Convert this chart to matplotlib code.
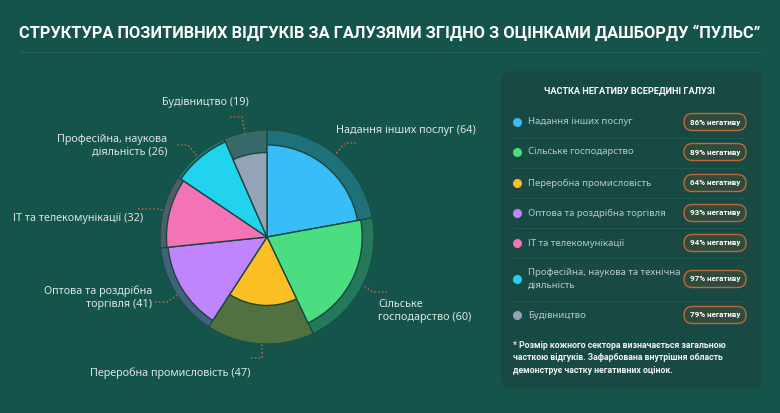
import numpy as np
import matplotlib.pyplot as plt
from matplotlib.patches import FancyBboxPatch
from matplotlib.colors import to_rgb

# data
industries = ["Надання інших послуг", "Сільське господарство", "Переробна промисловість",
              "Оптова та роздрібна торгівля", "ІТ та телекомунікації",
              "Професійна, наукова та технічна діяльність", "Будівництво"]
pie_labels = ["Надання інших послуг (64)", "Сільське\nгосподарство (60)", "Переробна промисловість (47)",
              "Оптова та роздрібна\nторгівля (41)", "ІТ та телекомунікації (32)",
              "Професійна, наукова\nдіяльність (26)", "Будівництво (19)"]
legend_labels = ["Надання інших послуг", "Сільське господарство", "Переробна промисловість",
                 "Оптова та роздрібна торгівля", "ІТ та телекомунікації",
                 "Професійна, наукова та технічна\nдіяльність", "Будівництво"]
counts = [64, 60, 47, 41, 32, 26, 19]
neg_share = [86, 89, 64, 93, 94, 97, 79]
colors = ["#38bdf8", "#4ade80", "#fbbf24", "#c084fc", "#f472b6", "#22d3ee", "#94a3b8"]

BG = "#14544a"
PANEL = "#184a43"
ORANGE = "#c2673a"
BOLD = ["Roboto", "DejaVu Sans"]
plt.rcParams['font.family'] = ['Noto Sans', 'DejaVu Sans']

def blend(c, a):
    c = np.array(to_rgb(c)); b = np.array(to_rgb(BG))
    return tuple(b + a * (c - b))

fig = plt.figure(figsize=(7.8, 4.13), dpi=100, facecolor=BG)
ax0 = fig.add_axes([0, 0, 1, 1])
ax0.set_xlim(0, 780)
ax0.set_ylim(413, 0)
ax0.axis("off")

# title
ax0.text(390, 33, "СТРУКТУРА ПОЗИТИВНИХ ВІДГУКІВ ЗА ГАЛУЗЯМИ ЗГІДНО З ОЦІНКАМИ ДАШБОРДУ “ПУЛЬС”",
         ha="center", va="center", color="white", fontsize=11.8, fontweight="bold", family=BOLD)
ax0.plot([20, 760], [52, 52], color="#22625a", lw=0.8)

# pie (polar bars: angle = share, radius = negative share)
cx, cy, R = 267, 237, 107
axp = fig.add_axes([(cx - R) / 780, (413 - cy - R) / 413, 2 * R / 780, 2 * R / 413], projection="polar")
axp.set_theta_zero_location("N")
axp.set_theta_direction(-1)
axp.set_ylim(0, 1)
axp.axis("off")
widths = np.array(counts) / sum(counts) * 2 * np.pi
starts = np.concatenate([[0], np.cumsum(widths)[:-1]])
axp.bar(starts, 1.0, width=widths, align="edge", color=[blend(c, 0.27) for c in colors],
        edgecolor="#16473f", linewidth=0.8)
axp.bar(starts, np.array(neg_share) / 100, width=widths, align="edge", color=colors,
        edgecolor="#16473f", linewidth=1.0)

# labels with dotted leaders
lab_cfg = [
    (336, 130, "left", [(329, 162), (345, 143), (356, 143)]),
    (378, 311, "left", [(355, 280), (373, 292), (387, 292)]),
    (170, 373, "center", [(262, 333), (262, 358), (249, 358)]),
    (152, 298, "right", [(155, 302), (167, 302), (185, 290)]),
    (143, 218, "right", [(138, 209), (160, 209), (173, 215)]),
    (167, 146, "right", [(177, 145), (188, 145), (203, 163)]),
    (205, 102, "center", [(230, 117), (242, 117), (247, 142)]),
]
for (tx, ty, ha, pts), lab in zip(lab_cfg, pie_labels):
    ax0.text(tx, ty, lab, ha=ha, va="center", color="#dbe5e1", fontsize=7.8, linespacing=1.25,
             multialignment=ha if ha != "center" else "center")
    xs, ys = zip(*pts)
    ax0.plot(xs, ys, color=ORANGE, lw=1.1, ls=(0, (1, 1.5)), zorder=5)

# right panel
ax0.add_patch(FancyBboxPatch((501, 71), 261, 318, boxstyle="round,pad=0,rounding_size=10",
                             facecolor=PANEL, edgecolor="none"))
ax0.text(630, 91, "ЧАСТКА НЕГАТИВУ ВСЕРЕДИНІ ГАЛУЗІ", ha="center", va="center",
         color="white", fontsize=6.6, fontweight="bold", family=BOLD)
row_y = [122, 152, 183, 213, 243, 279, 315]
sep_y = [138, 168, 198, 228, 258, 301]
for y in sep_y:
    ax0.plot([513, 746], [y, y], color="#1f5a50", lw=0.7)
for y, lab, c, n in zip(row_y, legend_labels, colors, neg_share):
    ax0.scatter([517], [y], s=30, color=c, zorder=4)
    ax0.text(528, y, lab, ha="left", va="center", color="#b9c8c3", fontsize=6.9, linespacing=1.6)
    ax0.add_patch(FancyBboxPatch((684, y - 8.5), 62, 17, boxstyle="round,pad=0,rounding_size=8.5",
                                 facecolor="#2e4b3c", edgecolor=ORANGE, lw=1.0, zorder=4))
    ax0.text(715, y, f"{n}% негативу", ha="center", va="center", color="white",
             fontsize=5.8, fontweight="bold", family=BOLD, zorder=5)

ax0.text(513, 358, "* Розмір кожного сектора визначається загальною\n"
                   "часткою відгуків. Зафарбована внутрішня область\n"
                   "демонструє частку негативних оцінок.",
         ha="left", va="center", color="#eef3f1", fontsize=6.3, fontweight="bold", family=BOLD,
         linespacing=1.5)

fig.savefig("out.png", dpi=100, facecolor=BG)
